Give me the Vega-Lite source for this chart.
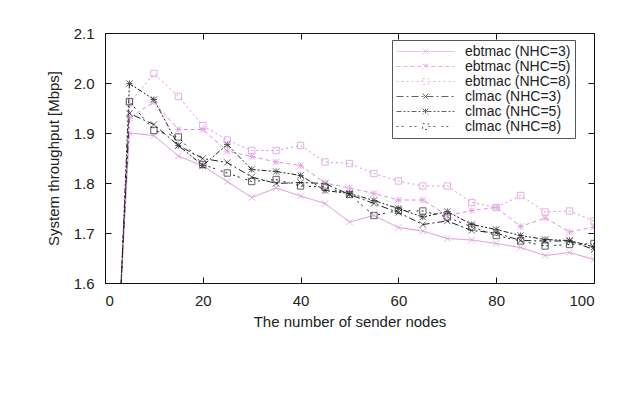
{
  "$schema": "https://vega.github.io/schema/vega-lite/v6.json",
  "width": 489,
  "height": 250,
  "autosize": {"type": "none"},
  "padding": {"left": 105, "top": 33, "right": 39, "bottom": 117},
  "background": "white",
  "config": {
    "view": {"stroke": "#111", "strokeWidth": 1},
    "font": "Liberation Sans",
    "axis": {"labelFont": "Liberation Sans", "titleFont": "Liberation Sans", "labelColor": "#222", "titleColor": "#222", "titleFontWeight": "normal", "grid": false, "domain": false, "tickColor": "#111", "tickSize": -6, "labelFontSize": 15, "titleFontSize": 15},
    "legend": {"labelFont": "Liberation Sans", "labelFontSize": 14, "labelColor": "#222", "labelLimit": 250, "labelOffset": 10, "rowPadding": 0, "padding": 4, "symbolStrokeWidth": 1, "symbolFillColor": "transparent", "strokeColor": "#555", "fillColor": "white"}
  },
  "data": {"values": [
    {"s":"ebtmac (NHC=3)","x":1,"y":1.19},{"s":"ebtmac (NHC=3)","x":5,"y":1.900},{"s":"ebtmac (NHC=3)","x":10,"y":1.895},{"s":"ebtmac (NHC=3)","x":15,"y":1.854},{"s":"ebtmac (NHC=3)","x":20,"y":1.834},{"s":"ebtmac (NHC=3)","x":25,"y":1.803},{"s":"ebtmac (NHC=3)","x":30,"y":1.771},{"s":"ebtmac (NHC=3)","x":35,"y":1.790},{"s":"ebtmac (NHC=3)","x":40,"y":1.774},{"s":"ebtmac (NHC=3)","x":45,"y":1.759},{"s":"ebtmac (NHC=3)","x":50,"y":1.722},{"s":"ebtmac (NHC=3)","x":55,"y":1.735},{"s":"ebtmac (NHC=3)","x":60,"y":1.711},{"s":"ebtmac (NHC=3)","x":65,"y":1.704},{"s":"ebtmac (NHC=3)","x":70,"y":1.689},{"s":"ebtmac (NHC=3)","x":75,"y":1.686},{"s":"ebtmac (NHC=3)","x":80,"y":1.679},{"s":"ebtmac (NHC=3)","x":85,"y":1.671},{"s":"ebtmac (NHC=3)","x":90,"y":1.655},{"s":"ebtmac (NHC=3)","x":95,"y":1.661},{"s":"ebtmac (NHC=3)","x":100,"y":1.647},
    {"s":"ebtmac (NHC=5)","x":1,"y":1.15},{"s":"ebtmac (NHC=5)","x":5,"y":1.930},{"s":"ebtmac (NHC=5)","x":10,"y":1.962},{"s":"ebtmac (NHC=5)","x":15,"y":1.907},{"s":"ebtmac (NHC=5)","x":20,"y":1.907},{"s":"ebtmac (NHC=5)","x":25,"y":1.864},{"s":"ebtmac (NHC=5)","x":30,"y":1.853},{"s":"ebtmac (NHC=5)","x":35,"y":1.842},{"s":"ebtmac (NHC=5)","x":40,"y":1.835},{"s":"ebtmac (NHC=5)","x":45,"y":1.800},{"s":"ebtmac (NHC=5)","x":50,"y":1.790},{"s":"ebtmac (NHC=5)","x":55,"y":1.779},{"s":"ebtmac (NHC=5)","x":60,"y":1.766},{"s":"ebtmac (NHC=5)","x":65,"y":1.766},{"s":"ebtmac (NHC=5)","x":70,"y":1.735},{"s":"ebtmac (NHC=5)","x":75,"y":1.745},{"s":"ebtmac (NHC=5)","x":80,"y":1.751},{"s":"ebtmac (NHC=5)","x":85,"y":1.713},{"s":"ebtmac (NHC=5)","x":90,"y":1.730},{"s":"ebtmac (NHC=5)","x":95,"y":1.702},{"s":"ebtmac (NHC=5)","x":100,"y":1.712},
    {"s":"ebtmac (NHC=8)","x":1,"y":1.13},{"s":"ebtmac (NHC=8)","x":5,"y":1.960},{"s":"ebtmac (NHC=8)","x":10,"y":2.019},{"s":"ebtmac (NHC=8)","x":15,"y":1.973},{"s":"ebtmac (NHC=8)","x":20,"y":1.915},{"s":"ebtmac (NHC=8)","x":25,"y":1.886},{"s":"ebtmac (NHC=8)","x":30,"y":1.865},{"s":"ebtmac (NHC=8)","x":35,"y":1.865},{"s":"ebtmac (NHC=8)","x":40,"y":1.875},{"s":"ebtmac (NHC=8)","x":45,"y":1.842},{"s":"ebtmac (NHC=8)","x":50,"y":1.839},{"s":"ebtmac (NHC=8)","x":55,"y":1.819},{"s":"ebtmac (NHC=8)","x":60,"y":1.804},{"s":"ebtmac (NHC=8)","x":65,"y":1.794},{"s":"ebtmac (NHC=8)","x":70,"y":1.794},{"s":"ebtmac (NHC=8)","x":75,"y":1.761},{"s":"ebtmac (NHC=8)","x":80,"y":1.751},{"s":"ebtmac (NHC=8)","x":85,"y":1.775},{"s":"ebtmac (NHC=8)","x":90,"y":1.742},{"s":"ebtmac (NHC=8)","x":95,"y":1.744},{"s":"ebtmac (NHC=8)","x":100,"y":1.724},
    {"s":"clmac (NHC=3)","x":1,"y":1.14},{"s":"clmac (NHC=3)","x":5,"y":1.939},{"s":"clmac (NHC=3)","x":10,"y":1.917},{"s":"clmac (NHC=3)","x":15,"y":1.875},{"s":"clmac (NHC=3)","x":20,"y":1.849},{"s":"clmac (NHC=3)","x":25,"y":1.841},{"s":"clmac (NHC=3)","x":30,"y":1.812},{"s":"clmac (NHC=3)","x":35,"y":1.799},{"s":"clmac (NHC=3)","x":40,"y":1.801},{"s":"clmac (NHC=3)","x":45,"y":1.799},{"s":"clmac (NHC=3)","x":50,"y":1.777},{"s":"clmac (NHC=3)","x":55,"y":1.759},{"s":"clmac (NHC=3)","x":60,"y":1.741},{"s":"clmac (NHC=3)","x":65,"y":1.717},{"s":"clmac (NHC=3)","x":70,"y":1.724},{"s":"clmac (NHC=3)","x":75,"y":1.705},{"s":"clmac (NHC=3)","x":80,"y":1.700},{"s":"clmac (NHC=3)","x":85,"y":1.685},{"s":"clmac (NHC=3)","x":90,"y":1.684},{"s":"clmac (NHC=3)","x":95,"y":1.684},{"s":"clmac (NHC=3)","x":100,"y":1.667},
    {"s":"clmac (NHC=5)","x":1,"y":1.06},{"s":"clmac (NHC=5)","x":5,"y":1.999},{"s":"clmac (NHC=5)","x":10,"y":1.967},{"s":"clmac (NHC=5)","x":15,"y":1.875},{"s":"clmac (NHC=5)","x":20,"y":1.835},{"s":"clmac (NHC=5)","x":25,"y":1.877},{"s":"clmac (NHC=5)","x":30,"y":1.827},{"s":"clmac (NHC=5)","x":35,"y":1.823},{"s":"clmac (NHC=5)","x":40,"y":1.815},{"s":"clmac (NHC=5)","x":45,"y":1.785},{"s":"clmac (NHC=5)","x":50,"y":1.779},{"s":"clmac (NHC=5)","x":55,"y":1.765},{"s":"clmac (NHC=5)","x":60,"y":1.749},{"s":"clmac (NHC=5)","x":65,"y":1.732},{"s":"clmac (NHC=5)","x":70,"y":1.743},{"s":"clmac (NHC=5)","x":75,"y":1.717},{"s":"clmac (NHC=5)","x":80,"y":1.707},{"s":"clmac (NHC=5)","x":85,"y":1.695},{"s":"clmac (NHC=5)","x":90,"y":1.687},{"s":"clmac (NHC=5)","x":95,"y":1.685},{"s":"clmac (NHC=5)","x":100,"y":1.672},
    {"s":"clmac (NHC=8)","x":1,"y":1.11},{"s":"clmac (NHC=8)","x":5,"y":1.963},{"s":"clmac (NHC=8)","x":10,"y":1.905},{"s":"clmac (NHC=8)","x":15,"y":1.892},{"s":"clmac (NHC=8)","x":20,"y":1.837},{"s":"clmac (NHC=8)","x":25,"y":1.820},{"s":"clmac (NHC=8)","x":30,"y":1.803},{"s":"clmac (NHC=8)","x":35,"y":1.807},{"s":"clmac (NHC=8)","x":40,"y":1.794},{"s":"clmac (NHC=8)","x":45,"y":1.792},{"s":"clmac (NHC=8)","x":50,"y":1.777},{"s":"clmac (NHC=8)","x":55,"y":1.735},{"s":"clmac (NHC=8)","x":60,"y":1.745},{"s":"clmac (NHC=8)","x":65,"y":1.744},{"s":"clmac (NHC=8)","x":70,"y":1.732},{"s":"clmac (NHC=8)","x":75,"y":1.712},{"s":"clmac (NHC=8)","x":80,"y":1.695},{"s":"clmac (NHC=8)","x":85,"y":1.684},{"s":"clmac (NHC=8)","x":90,"y":1.674},{"s":"clmac (NHC=8)","x":95,"y":1.677},{"s":"clmac (NHC=8)","x":100,"y":1.679}
  ]},
  "layer": [
    {
      "mark": {"type": "line", "strokeWidth": 1, "clip": true},
      "encoding": {
        "x": {"field": "x", "type": "quantitative", "scale": {"domain": [0, 100], "nice": false}, "axis": {"orient": "bottom", "values": [0,20,40,60,80,100], "title": "The number of sender nodes", "labelPadding": 16, "titlePadding": 6}},
        "y": {"field": "y", "type": "quantitative", "scale": {"domain": [1.6, 2.1], "nice": false, "zero": false}, "axis": {"orient": "left", "values": [1.6,1.7,1.8,1.9,2.0,2.1], "format": ".1f", "title": "System throughput [Mbps]", "labelPadding": 17, "titlePadding": 12}},
        "color": {"field": "s", "type": "nominal", "sort": null, "title": null,
          "scale": {"domain": ["ebtmac (NHC=3)","ebtmac (NHC=5)","ebtmac (NHC=8)","clmac (NHC=3)","clmac (NHC=5)","clmac (NHC=8)"], "range": ["#dd90dd","#dd90dd","#dd90dd","#222222","#222222","#222222"]},
          "legend": {
            "orient": "none", "legendX": 287, "legendY": 7,
            "strokeColor": "#555", "fillColor": "white", "padding": 4,
            "labelFont": "Liberation Sans", "labelFontSize": 14, "labelColor": "#222", "labelLimit": 250, "labelOffset": 10,
            "symbolSize": 3364, "symbolStrokeWidth": 1, "symbolFillColor": "transparent", "rowPadding": 0, "clipHeight": 15
          }},
        "strokeDash": {"field": "s", "type": "nominal", "sort": null, "title": null,
          "scale": {"domain": ["ebtmac (NHC=3)","ebtmac (NHC=5)","ebtmac (NHC=8)","clmac (NHC=3)","clmac (NHC=5)","clmac (NHC=8)"], "range": [[1,0],[4,3],[2,3],[7,3,2,3],[5,2,2,2,2,2],[2,3,2,6]]}}
      }
    },
    {
      "transform": [{"filter": "datum.x == 1"}],
      "mark": {"type": "point", "filled": false, "strokeWidth": 1, "size": 40, "clip": true},
      "encoding": {
        "x": {"field": "x", "type": "quantitative", "axis": {"orient": "top", "values": [0,20,40,60,80,100], "labels": false, "title": null}},
        "y": {"field": "y", "type": "quantitative", "axis": {"orient": "right", "values": [1.6,1.7,1.8,1.9,2.0,2.1], "labels": false, "title": null}},
        "color": {"field": "s", "type": "nominal", "sort": null, "title": null},
        "strokeDash": {"field": "s", "type": "nominal", "sort": null, "title": null},
        "shape": {"field": "s", "type": "nominal", "sort": null, "title": null,
          "scale": {"domain": ["ebtmac (NHC=3)","ebtmac (NHC=5)","ebtmac (NHC=8)","clmac (NHC=3)","clmac (NHC=5)","clmac (NHC=8)"], "range": [
            "M-1,0L1,0M-0.1,-0.1L0.1,0.1M0.1,-0.1L-0.1,0.1",
            "M-1,0L1,0M-0.1,-0.1L0.1,0.1M0.1,-0.1L-0.1,0.1M0,-0.1L0,0.1",
            "M-1,0L-0.1,0M0.1,0L1,0M-0.1,-0.1L0.1,-0.1L0.1,0.1L-0.1,0.1Z",
            "M-1,0L1,0M-0.1,-0.1L0.1,0.1M0.1,-0.1L-0.1,0.1",
            "M-1,0L1,0M-0.1,-0.1L0.1,0.1M0.1,-0.1L-0.1,0.1M0,-0.1L0,0.1",
            "M-1,0L-0.1,0M0.1,0L1,0M-0.1,-0.1L0.1,-0.1L0.1,0.1L-0.1,0.1Z"]}}
      }
    },
    {
      "transform": [{"filter": {"field": "s", "oneOf": ["ebtmac (NHC=3)", "clmac (NHC=3)"]}}],
      "mark": {"type": "point", "filled": false, "strokeWidth": 1, "size": 40, "clip": true, "shape": "M-1,-1L1,1M1,-1L-1,1"},
      "encoding": {
        "x": {"field": "x", "type": "quantitative", "axis": null},
        "y": {"field": "y", "type": "quantitative", "axis": null},
        "color": {"field": "s", "type": "nominal", "sort": null, "title": null}
      }
    },
    {
      "transform": [{"filter": {"field": "s", "oneOf": ["ebtmac (NHC=5)", "clmac (NHC=5)"]}}],
      "mark": {"type": "point", "filled": false, "strokeWidth": 1, "size": 40, "clip": true, "shape": "M-1,-1L1,1M1,-1L-1,1M-1,0L1,0M0,-1L0,1"},
      "encoding": {
        "x": {"field": "x", "type": "quantitative", "axis": null},
        "y": {"field": "y", "type": "quantitative", "axis": null},
        "color": {"field": "s", "type": "nominal", "sort": null, "title": null}
      }
    },
    {
      "transform": [{"filter": {"field": "s", "oneOf": ["ebtmac (NHC=8)", "clmac (NHC=8)"]}}],
      "mark": {"type": "point", "filled": false, "strokeWidth": 1, "size": 40, "clip": true, "shape": "square"},
      "encoding": {
        "x": {"field": "x", "type": "quantitative", "axis": null},
        "y": {"field": "y", "type": "quantitative", "axis": null},
        "color": {"field": "s", "type": "nominal", "sort": null, "title": null}
      }
    }
  ],
  "resolve": {"axis": {"x": "independent", "y": "independent"}}
}
